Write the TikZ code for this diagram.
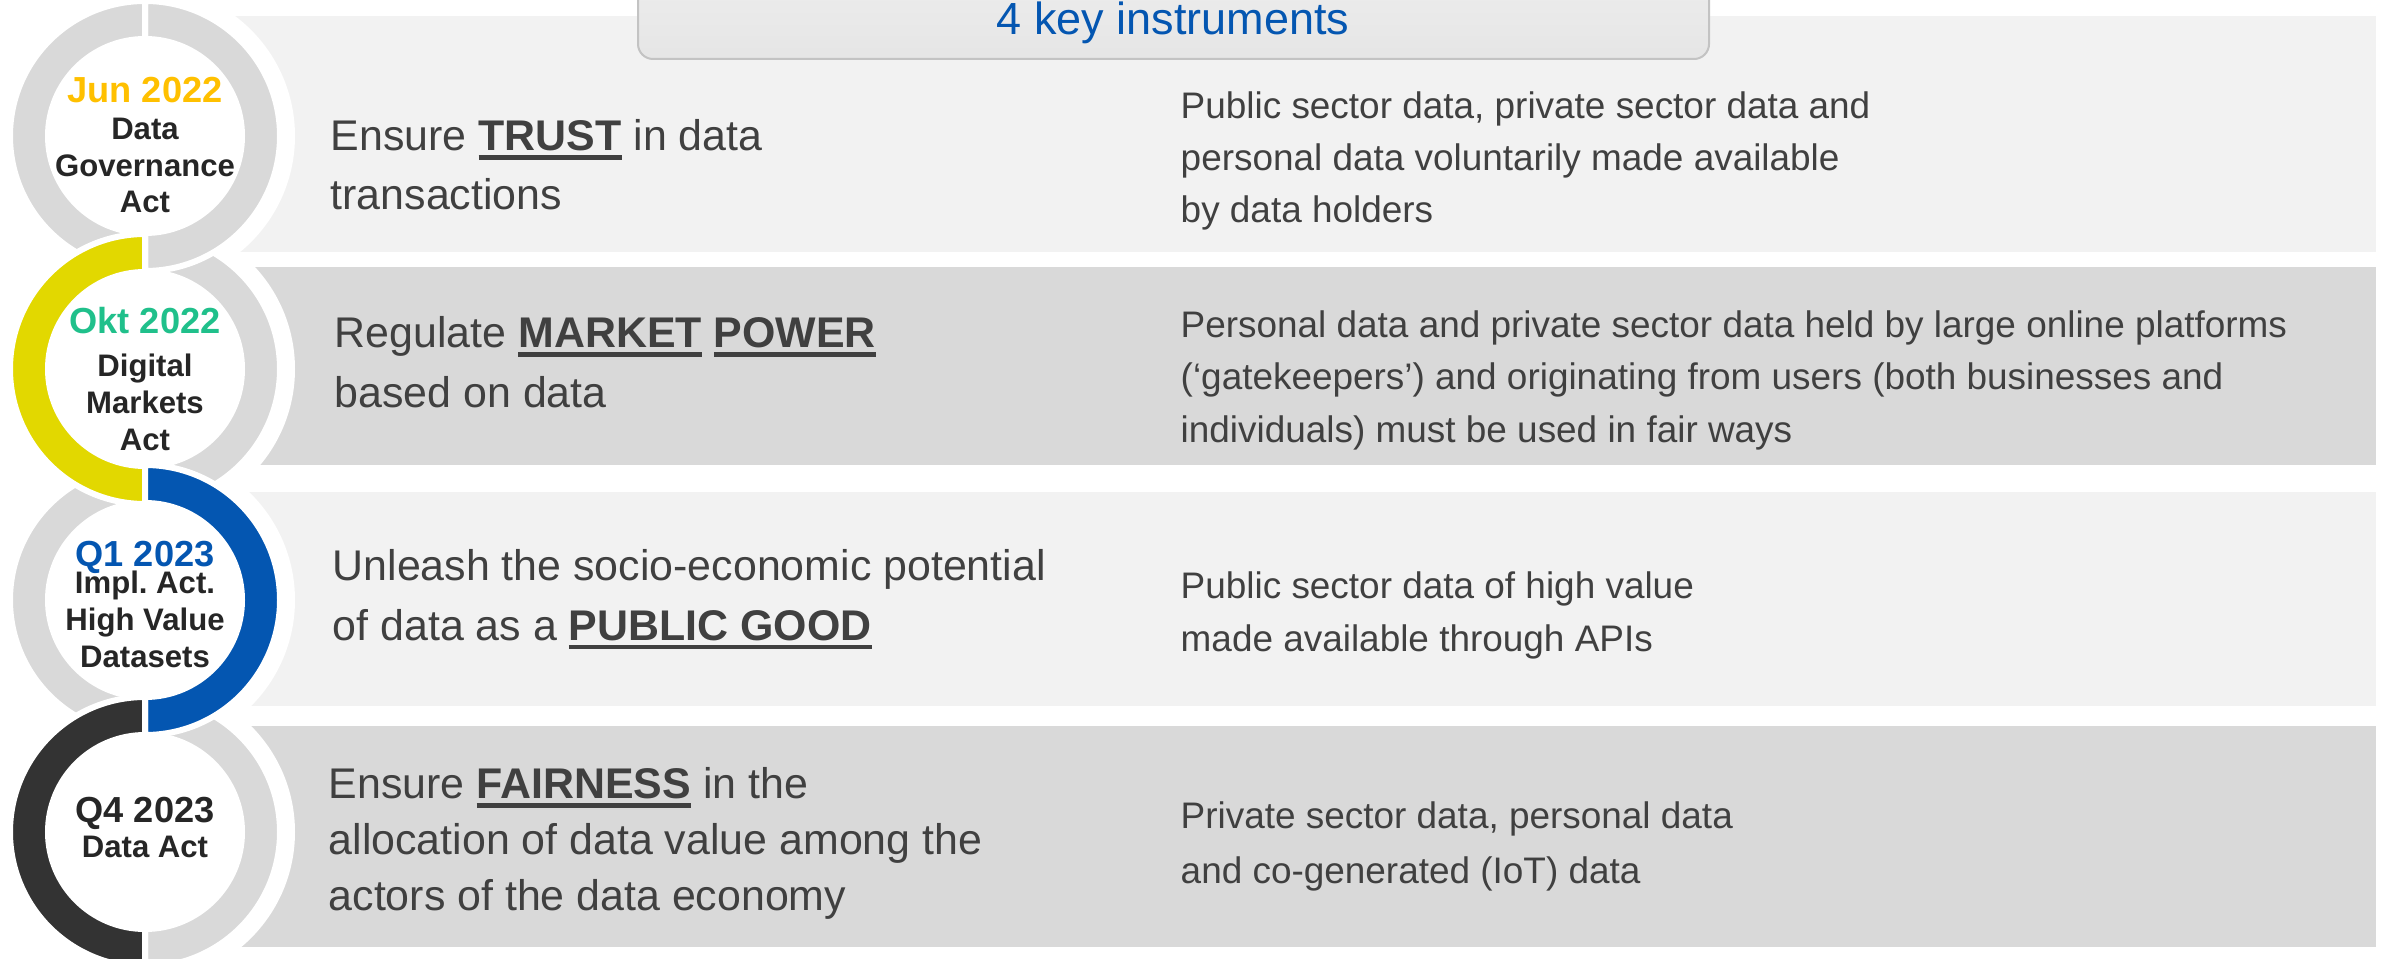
\documentclass[tikz,border=0pt]{standalone}
\usepackage{fontspec}
\setmainfont{Liberation Sans}
\definecolor{bandlight}{HTML}{F2F2F2}
\definecolor{banddark}{HTML}{D9D9D9}
\definecolor{ringgray}{HTML}{D9D9D9}
\definecolor{dgayellow}{HTML}{E2D800}
\definecolor{euroblue}{HTML}{0456B1}
\definecolor{ringdark}{HTML}{333333}
\definecolor{junorange}{HTML}{FFC000}
\definecolor{oktgreen}{HTML}{20C08B}
\definecolor{bodytext}{HTML}{404040}
\definecolor{acttext}{HTML}{262626}
% bold word with a thick underline
\newcommand{\keyterm}[1]{\setbox0\hbox{\bfseries #1}\rlap{\rule[-2.6pt]{\wd0}{1.3pt}}\box0\relax}
% date line inside a ring
\newcommand{\datefont}{\bfseries\fontsize{10.3pt}{10.5pt}\selectfont}
% one half of a ring: centre, start angle, colour
\newcommand{\halfring}[3]{%
  \filldraw[fill=#3, draw=white, line width=0.06cm]
    ([shift={(#2:135)}]#1) arc[start angle=#2, delta angle=180, radius=135]
    -- ([shift={(#2+180:97)}]#1) arc[start angle=#2+180, delta angle=-180, radius=97] -- cycle;}
\begin{document}
\begin{tikzpicture}[x=0.01cm, y=-0.01cm,
    aim/.style={anchor=base west, inner sep=0pt, align=left, text=bodytext,
      font=\fontsize{12.2pt}{16.8pt}\selectfont},
    scopetext/.style={anchor=base west, inner sep=0pt, align=left, text=bodytext,
      font=\fontsize{10.5pt}{14.9pt}\selectfont},
    actlabel/.style={anchor=base, inner sep=0pt, align=center, text=acttext,
      font=\bfseries\fontsize{8.85pt}{10.5pt}\selectfont}]
    \useasboundingbox (0,0) rectangle (2386,958);
    % bands
    \fill[bandlight] (145,16) rectangle (2376,252);
    \fill[banddark] (145,267) rectangle (2376,465);
    \fill[bandlight] (145,492) rectangle (2376,706);
    \fill[banddark] (145,726) rectangle (2376,947);
    % header
    \draw[draw=ringgray!90!black, line width=0.02cm, rounded corners=0.15cm,
      top color=black!7, bottom color=black!10] (638,-30) rectangle (1709,59);
    \node[anchor=base, inner sep=0pt, text=euroblue, font=\fontsize{12.8pt}{14pt}\selectfont]
      (head) at (1173,35) {4 key instruments};
    % rings
    \coordinate (c1) at (145,136);
    \coordinate (c2) at (145,369);
    \coordinate (c3) at (145,600);
    \coordinate (c4) at (145,832);
    \foreach \c in {c1,c2,c3,c4}
      \fill[white] (\c) circle[radius=150];
    \halfring{c4}{270}{ringgray}
    \halfring{c2}{270}{ringgray}
    \halfring{c1}{270}{ringgray}
    \halfring{c1}{90}{ringgray}
    \halfring{c3}{90}{ringgray}
    \halfring{c2}{90}{dgayellow}
    \halfring{c3}{270}{euroblue}
    \halfring{c4}{90}{ringdark}
    % acts (placed at the baseline of their last line)
    \node[actlabel] (act1) at (145,213)
      {{\datefont\textcolor{junorange}{Jun 2022}}\\Data\\Governance\\Act};
    \node[actlabel] (act2) at (145,450)
      {{\datefont\textcolor{oktgreen}{Okt 2022}}\\[1.7pt]Digital\\Markets\\Act};
    \node[actlabel] (act3) at (145,667)
      {{\datefont\textcolor{euroblue}{Q1 2023}}\\[-2.8pt]Impl.\ Act.\\High Value\\Datasets};
    \node[actlabel] (act4) at (145,857)
      {{\datefont Q4 2023}\\[-0.8pt]Data Act};
    % aims
    \node[aim] (aim1) at (330,210) {Ensure \keyterm{TRUST} in data\\transactions};
    \node[aim] (aim2) at (334,407) {Regulate \keyterm{MARKET} \keyterm{POWER}\\based on data};
    \node[aim] (aim3) at (332,640) {Unleash the socio-economic potential\\of data as a \keyterm{PUBLIC GOOD}};
    \node[aim, font=\fontsize{12.2pt}{15.8pt}\selectfont] (aim4) at (328,910)
      {Ensure \keyterm{FAIRNESS} in the\\allocation of data value among the\\actors of the data economy};
    % data in scope
    \node[scopetext] (data1) at (1180,223)
      {Public sector data, private sector data and\\personal data voluntarily made available\\by data holders};
    \node[scopetext] (data2) at (1180,442)
      {Personal data and private sector data held by large online platforms\\(`gatekeepers') and originating from users (both businesses and\\individuals) must be used in fair ways};
    \node[scopetext] (data3) at (1180,651)
      {Public sector data of high value\\made available through APIs};
    \node[scopetext, font=\fontsize{10.5pt}{15.6pt}\selectfont] (data4) at (1180,883)
      {Private sector data, personal data\\and co-generated (IoT) data};
\end{tikzpicture}
\end{document}
